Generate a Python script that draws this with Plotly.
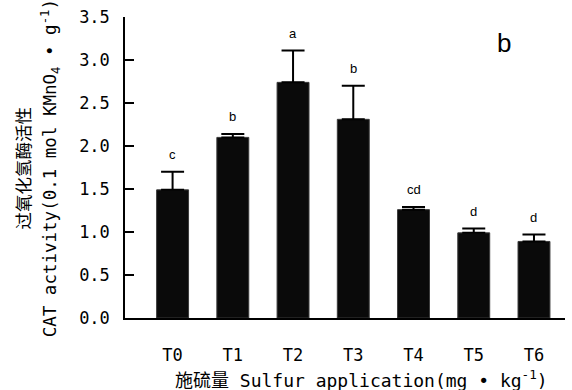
import plotly.graph_objects as go

categories = ["T0", "T1", "T2", "T3", "T4", "T5", "T6"]
cat_activity = [1.49, 2.10, 2.74, 2.31, 1.26, 0.99, 0.89]
std_error = [0.21, 0.04, 0.37, 0.39, 0.03, 0.05, 0.08]
sig_letters = ["c", "b", "a", "b", "cd", "d", "d"]
y_ticks = [0.0, 0.5, 1.0, 1.5, 2.0, 2.5, 3.0, 3.5]

MONO = "DejaVu Sans Mono, Noto Sans CJK SC, monospace"
CJK = "Noto Sans CJK SC, sans-serif"
SANS = "Liberation Sans, Arial, sans-serif"

fig = go.Figure()
fig.add_trace(go.Bar(
    x=categories,
    y=cat_activity,
    width=0.53,
    marker=dict(color="#0a0a0a", line=dict(color="#3a3a3a", width=1)),
    error_y=dict(type="data", array=std_error, arrayminus=[0] * len(std_error),
                 symmetric=False, color="black", thickness=2, width=11.5),
    showlegend=False,
))

for c, v, e, s in zip(categories, cat_activity, std_error, sig_letters):
    fig.add_annotation(x=c, y=v + e, text=s, showarrow=False, yanchor="bottom",
                       yshift=8, font=dict(family=SANS, size=13, color="black"))

fig.add_annotation(xref="paper", yref="paper", x=0.861, y=0.913, text="b",
                   xanchor="center", yanchor="middle",
                   showarrow=False, font=dict(family=SANS, size=26, color="black"))

fig.add_annotation(xref="paper", yref="paper", x=-0.233, y=0.498,
                   xanchor="center", yanchor="middle",
                   text="过氧化氢酶活性", textangle=-90, showarrow=False,
                   font=dict(family=CJK, size=17.5, color="black"))
fig.add_annotation(xref="paper", yref="paper", x=-0.17, y=0.498,
                   xanchor="center", yanchor="middle",
                   text="CAT activity(0.1 mol KMnO<sub>4</sub> • g<sup>-1</sup>)",
                   textangle=-90, showarrow=False,
                   font=dict(family=MONO, size=17.5, color="black"))
fig.add_annotation(xref="paper", yref="paper", x=0.5375, y=-0.201,
                   xanchor="center", yanchor="middle",
                   text="施硫量 Sulfur application(mg • kg<sup>-1</sup>)",
                   showarrow=False,
                   font=dict(family=MONO, size=18, color="black"))

fig.update_xaxes(range=[-0.79, 6.515], showline=True, linecolor="black", linewidth=1.5,
                 ticks="", showgrid=False, zeroline=False, ticklabelstandoff=21,
                 automargin=False,
                 tickfont=dict(family=MONO, size=17, color="black"))
fig.update_yaxes(range=[0, 3.5], tickvals=y_ticks, tickformat=".1f",
                 showline=True, linecolor="black", linewidth=1.5,
                 ticks="inside", ticklen=9, tickwidth=1.5, tickcolor="black",
                 showgrid=False, zeroline=False, ticklabelstandoff=10,
                 automargin=False,
                 tickfont=dict(family=MONO, size=17, color="black"))

fig.update_layout(width=572, height=390, margin=dict(l=125, r=7, t=17, b=72, autoexpand=False),
                  plot_bgcolor="white", paper_bgcolor="white", bargap=0.47)

fig.write_html("out.html", config={"displayModeBar": False},
               post_script="document.body.style.margin='0';")
